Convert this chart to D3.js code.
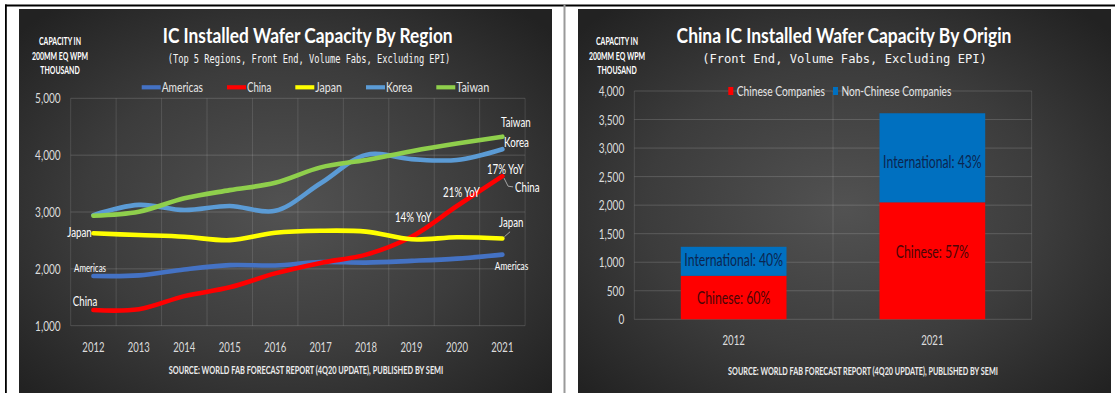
<!DOCTYPE html>
<html>
<head>
<meta charset="utf-8">
<script src="https://cdn.jsdelivr.net/npm/d3@7"></script>
<style>
  html, body { margin: 0; padding: 0; background: #ffffff; }
  svg { display: block; }
</style>
</head>
<body>
<svg id="chart" width="1115" height="393"></svg>
<script>
// ---- Installed capacity by region, thousand wafers per month (200mm equivalent) ----
const years = ["2012", "2013", "2014", "2015", "2016", "2017", "2018", "2019", "2020", "2021"];
const americas = [1875, 1885, 1990, 2065, 2060, 2120, 2110, 2140, 2180, 2250];
const china    = [1275, 1290, 1520, 1675, 1920, 2105, 2250, 2565, 3105, 3630];
const japan    = [2625, 2595, 2565, 2505, 2635, 2670, 2655, 2520, 2555, 2535];
const korea    = [2945, 3125, 3035, 3105, 3020, 3505, 4005, 3930, 3915, 4105];
const taiwan   = [2935, 3005, 3240, 3385, 3515, 3785, 3915, 4070, 4205, 4325];
const regionNames = ["Americas", "China", "Japan", "Korea", "Taiwan"];
const regionTicks = [1000, 2000, 3000, 4000, 5000];
const yoyYears  = ["2019", "2020", "2021"];
const yoyLabels = ["14% YoY", "21% YoY", "17% YoY"];

// ---- China capacity by company origin ----
const originYears   = ["2012", "2021"];
const chineseCos    = [762, 2050];
const nonChineseCos = [508, 1560];
const originNames   = ["Chinese Companies", "Non-Chinese Companies"];
const originTicks   = [0, 500, 1000, 1500, 2000, 2500, 3000, 3500, 4000];

const yTitle = ["CAPACITY IN", "200MM EQ WPM", "THOUSAND"];
const sourceText = "SOURCE: WORLD FAB FORECAST REPORT (4Q20 UPDATE), PUBLISHED BY SEMI";

const svg = d3.select("#chart");
const K = 0.72;           // horizontal squeeze applied to text
const FONT = "Lato, 'Open Sans', sans-serif";
const MONO = "'DejaVu Sans Mono', monospace";

// Text drawn in a narrowed coordinate system: width is either given (o.w) or natural * o.k
function txt(g, s, x, y, o) {
  const t = g.append("text")
    .attr("dy", "0.36em")
    .attr("font-family", o.f || FONT)
    .attr("font-size", o.s)
    .attr("font-weight", o.b ? "bold" : "normal")
    .attr("fill", o.c || "#ffffff")
    .attr("text-anchor", o.a || "start")
    .text(s);
  const nat = t.node().getComputedTextLength();
  const k = o.w ? o.w / nat : (o.k || K);
  t.attr("transform", `translate(${x},${y}) scale(${k},1)`);
  return nat * k;
}
// Narrow axis tick labels in place
function squeeze(sel, k) {
  sel.each(function () {
    const t = d3.select(this);
    const x = +t.attr("x") || 0;
    t.attr("x", x / k).attr("transform", `scale(${k},1)`);
  });
}

// ---- frame ----
const defs = svg.append("defs");
const grad = defs.append("radialGradient").attr("id", "panelBg")
  .attr("cx", "0.5").attr("cy", "0.52").attr("r", "0.68");
grad.append("stop").attr("offset", "0").attr("stop-color", "#525252");
grad.append("stop").attr("offset", "0.55").attr("stop-color", "#3c3c3c");
grad.append("stop").attr("offset", "1").attr("stop-color", "#222222");

svg.append("rect").attr("x", 19).attr("y", 9).attr("width", 533).attr("height", 384).attr("fill", "url(#panelBg)");
svg.append("rect").attr("x", 578).attr("y", 9).attr("width", 533).attr("height", 384).attr("fill", "url(#panelBg)");
svg.append("rect").attr("x", 5).attr("y", 4.5).attr("width", 1110).attr("height", 2).attr("fill", "#000");
svg.append("rect").attr("x", 5).attr("y", 4.5).attr("width", 1.8).attr("height", 389).attr("fill", "#000");
svg.append("rect").attr("x", 563.5).attr("y", 4.5).attr("width", 2).attr("height", 389).attr("fill", "#9a9a9a");

// ================= Left chart: capacity by region =================
const L = svg.append("g");
const xL = d3.scaleBand().domain(years).range([70.7, 525.1]);
const yL = d3.scaleLinear().domain([1000, 5000]).range([325.7, 98.3]);
const cxL = d => xL(d) + xL.bandwidth() / 2;

// grid
L.append("g").selectAll("line").data(regionTicks).join("line")
  .attr("x1", xL.range()[0]).attr("x2", xL.range()[1])
  .attr("y1", d => yL(d)).attr("y2", d => yL(d))
  .attr("stroke", "#ffffff").attr("stroke-opacity", 0.16).attr("stroke-width", 1);
L.append("g").selectAll("line").data(d3.range(years.length + 1)).join("line")
  .attr("x1", i => xL.range()[0] + i * xL.step()).attr("x2", i => xL.range()[0] + i * xL.step())
  .attr("y1", yL(5000)).attr("y2", yL(1000))
  .attr("stroke", "#ffffff").attr("stroke-opacity", 0.12).attr("stroke-width", 1);

// axes
const axL = L.append("g").attr("transform", `translate(${xL.range()[0]},0)`)
  .call(d3.axisLeft(yL).tickValues(regionTicks).tickFormat(d3.format(",")).tickSize(0).tickPadding(10));
axL.select(".domain").remove();
axL.selectAll("text").attr("font-family", FONT).attr("font-size", 14).attr("fill", "#dcdcdc").call(squeeze, K);

const axLb = L.append("g").attr("transform", `translate(0,${yL(1000)})`)
  .call(d3.axisBottom(xL).tickSize(0).tickPadding(0));
axLb.select(".domain").remove();
axLb.selectAll("text").attr("y", 21).attr("dy", "0.36em").attr("font-family", FONT).attr("font-size", 14)
  .attr("fill", "#dcdcdc").call(squeeze, 0.68);

// series
const regionSeries = [americas, china, japan, korea, taiwan];
const regionColors = ["#4472c4", "#ff0000", "#ffff00", "#5b9bd5", "#8fcf4c"];
const lineGen = d3.line().x(d => cxL(d.year)).y(d => yL(d.v)).curve(d3.curveCatmullRom.alpha(0.5));
regionSeries.forEach((vals, i) => {
  L.append("path")
    .datum(vals.map((v, j) => ({ year: years[j], v })))
    .attr("d", lineGen)
    .attr("fill", "none").attr("stroke", regionColors[i])
    .attr("stroke-width", 4.6).attr("stroke-linecap", "round").attr("stroke-linejoin", "round");
});

// titles
txt(L, "IC Installed Wafer Capacity By Region", 307.7, 35.5, { s: 21, b: true, a: "middle", w: 290 });
txt(L, "(Top 5 Regions, Front End, Volume Fabs, Excluding EPI)", 309, 58.8,
  { s: 13, a: "middle", w: 283, f: MONO, c: "#f4f4f4" });
yTitle.forEach((t, i) => txt(L, t, 60, 41 + i * 14.85, { s: 10.5, b: true, a: "middle", k: 0.66 }));
txt(L, sourceText, 306, 370.7, { s: 10.5, b: true, a: "middle", w: 275, c: "#ececec" });

// legend
const legendW = [41.3, 24.3, 26.7, 26.3, 33];
let lx = 141.7;
regionNames.forEach((n, i) => {
  L.append("line").attr("x1", lx).attr("x2", lx + 19).attr("y1", 87.3).attr("y2", 87.3)
    .attr("stroke", regionColors[i]).attr("stroke-width", 4.2);
  const w = txt(L, n, lx + 20, 87.3, { s: 14, c: "#e6e6e6", w: legendW[i] });
  lx += 20 + w + 24;
});

// end-point annotations
const last = years.length - 1;
const ex = cxL(years[last]);
txt(L, "Taiwan", ex - 1.3, yL(taiwan[last]) - 15, { s: 13.5 });
txt(L, "Korea", ex + 1.7, yL(korea[last]) - 6.6, { s: 13.5 });
txt(L, "China", ex + 12.7, yL(china[last]) + 10.7, { s: 13.5 });
txt(L, "Japan", ex - 3.3, yL(japan[last]) - 16.7, { s: 13.5 });
txt(L, "Americas", ex + 9.2, yL(americas[last]) + 11.1, { s: 11.5, a: "middle" });
const leader = (pts) => L.append("path").attr("d", d3.line()(pts))
  .attr("fill", "none").attr("stroke", "#bfbfbf").attr("stroke-width", 0.8);
leader([[ex + 1.7, yL(china[last]) + 2], [ex + 5.7, yL(china[last]) + 10], [ex + 10.7, yL(china[last]) + 10.7]]);
leader([[ex + 2, yL(japan[last]) - 1.7], [ex + 7.7, yL(japan[last]) - 6.7]]);

// start-point annotations
const sx = cxL(years[0]);
txt(L, "Japan", sx - 1.7, yL(japan[0]) - 1.6, { s: 13.5, a: "end" });
txt(L, "Americas", sx - 3.4, yL(americas[0]) - 7.6, { s: 11, a: "middle" });
txt(L, "China", sx - 8.4, yL(china[0]) - 9.4, { s: 13.5, a: "middle" });

// growth annotations on the China series
const yoyDx = [1.7, 4.5, 2.9];
const yoyDy = [-19.4, -13.7, -6.7];
yoyYears.forEach((yr, i) => {
  const v = china[years.indexOf(yr)];
  txt(L, yoyLabels[i], cxL(yr) + yoyDx[i], yL(v) + yoyDy[i], { s: 13.5, a: "middle" });
});

// ================= Right chart: China capacity by origin =================
const R = svg.append("g");
const xR = d3.scaleBand().domain(originYears).range([634.3, 1031.7]).paddingInner(0.468).paddingOuter(0.234);
const yR = d3.scaleLinear().domain([0, 4000]).range([319.3, 91]);
const stepR = (xR.range()[1] - xR.range()[0]) / originYears.length;

R.append("g").selectAll("line").data(originTicks).join("line")
  .attr("x1", xR.range()[0]).attr("x2", xR.range()[1])
  .attr("y1", d => yR(d)).attr("y2", d => yR(d))
  .attr("stroke", "#ffffff").attr("stroke-opacity", 0.16);
R.append("g").selectAll("line").data(d3.range(originYears.length + 1)).join("line")
  .attr("x1", i => xR.range()[0] + i * stepR).attr("x2", i => xR.range()[0] + i * stepR)
  .attr("y1", yR(4000)).attr("y2", yR(0))
  .attr("stroke", "#ffffff").attr("stroke-opacity", 0.12);

const axR = R.append("g").attr("transform", `translate(${xR.range()[0]},0)`)
  .call(d3.axisLeft(yR).tickValues(originTicks).tickFormat(d3.format(",")).tickSize(0).tickPadding(10));
axR.select(".domain").remove();
axR.selectAll("text").attr("font-family", FONT).attr("font-size", 14).attr("fill", "#dcdcdc").call(squeeze, K);

const axRb = R.append("g").attr("transform", `translate(0,${yR(0)})`)
  .call(d3.axisBottom(xR).tickSize(0).tickPadding(0));
axRb.select(".domain").remove();
axRb.selectAll("text").attr("y", 20.7).attr("dy", "0.36em").attr("font-family", FONT).attr("font-size", 14)
  .attr("fill", "#dcdcdc").call(squeeze, 0.69);

// stacked bars
const originRows = originYears.map((yr, i) => ({ year: yr, chinese: chineseCos[i], intl: nonChineseCos[i] }));
const stacked = d3.stack().keys(["chinese", "intl"])(originRows);
const barColors = ["#ff0000", "#0070c0"];
stacked.forEach((layer, li) => {
  R.append("g").selectAll("rect").data(layer).join("rect")
    .attr("x", d => xR(d.data.year)).attr("width", xR.bandwidth())
    .attr("y", d => yR(d[1])).attr("height", d => yR(d[0]) - yR(d[1]))
    .attr("fill", barColors[li]);
});

// segment labels
const labelDy = { "2012": [0, -1], "2021": [-9.3, 3.7] };
originRows.forEach(r => {
  const total = r.chinese + r.intl;
  const cx = xR(r.year) + xR.bandwidth() / 2;
  const pc = Math.round(r.chinese / total * 100);
  const pi = 100 - pc;
  txt(R, `Chinese: ${pc}%`, cx, yR(r.chinese / 2) + labelDy[r.year][0], { s: 17, a: "middle", c: "#4a0606" });
  txt(R, `International: ${pi}%`, cx, yR(r.chinese + r.intl / 2) + labelDy[r.year][1], { s: 17, a: "middle", c: "#0b2650" });
});

// titles
txt(R, "China IC Installed Wafer Capacity By Origin", 844, 35.5, { s: 21, b: true, a: "middle", w: 335 });
txt(R, "(Front End, Volume Fabs, Excluding EPI)", 844.5, 58.8,
  { s: 13, a: "middle", w: 285, f: MONO, c: "#f4f4f4" });
yTitle.forEach((t, i) => txt(R, t, 617, 41 + i * 14.85, { s: 10.5, b: true, a: "middle", k: 0.66 }));
txt(R, sourceText, 863, 371, { s: 10.5, b: true, a: "middle", w: 270, c: "#ececec" });

// legend
const originLegendW = [88.3, 110];
let rx = 728.3;
originNames.forEach((n, i) => {
  R.append("rect").attr("x", rx).attr("y", 87).attr("width", 5).attr("height", 8).attr("fill", barColors[i]);
  const w = txt(R, n, rx + 8.4, 91, { s: 14, c: "#e6e6e6", w: originLegendW[i] });
  rx += 8.4 + w + 8;
});
</script>
</body>
</html>
